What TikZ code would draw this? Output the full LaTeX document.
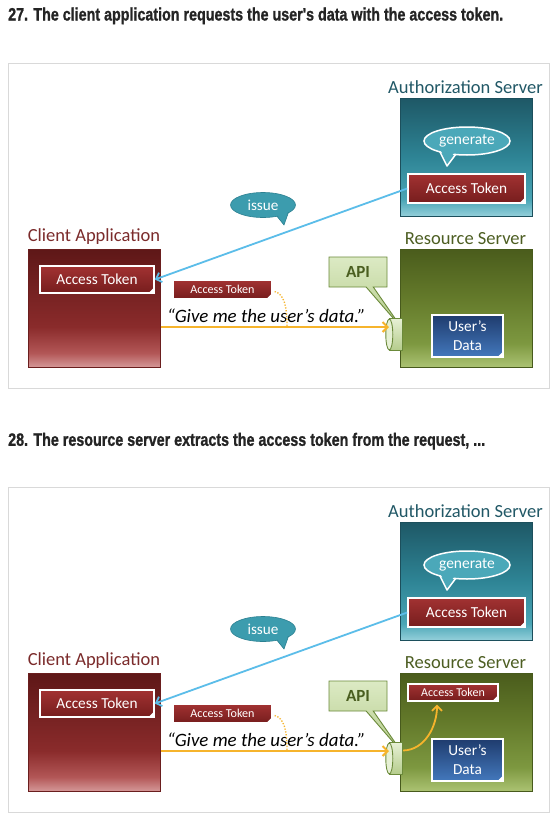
\documentclass[tikz,border=0pt]{standalone}
\usepackage{fontspec}
\setmainfont{Carlito}
\newfontfamily\titlefont[BoldFeatures={FakeBold=1.2}]{Liberation Sans}
\usetikzlibrary{shapes.geometric,shapes.callouts,arrows.meta,calc,shadows}

\definecolor{frameC}{HTML}{D9D9D9}
\definecolor{titleC}{HTML}{242424}
\definecolor{cliText}{HTML}{7B2B2B}
\definecolor{authText}{HTML}{215866}
\definecolor{resText}{HTML}{4D5E22}
\definecolor{cliT}{HTML}{5E1717}
\definecolor{cliM}{HTML}{8A2B2B}
\definecolor{cliL}{HTML}{B25656}
\definecolor{cliB}{HTML}{D49797}
\definecolor{cliE}{HTML}{6A1E1E}
\definecolor{authT}{HTML}{1E5866}
\definecolor{authM}{HTML}{2E8495}
\definecolor{authL}{HTML}{4AA5B5}
\definecolor{authB}{HTML}{93CFDA}
\definecolor{authE}{HTML}{1C4F5C}
\definecolor{resT}{HTML}{4A5C1C}
\definecolor{resM}{HTML}{63792A}
\definecolor{resL}{HTML}{7D9840}
\definecolor{resB}{HTML}{ABC272}
\definecolor{resE}{HTML}{475A1C}
\definecolor{tokT}{HTML}{A23232}
\definecolor{tokB}{HTML}{761D1D}
\definecolor{dataT}{HTML}{1F3C6E}
\definecolor{dataB}{HTML}{4378BC}
\definecolor{bubbleC}{HTML}{3C9CAE}
\definecolor{bubbleE}{HTML}{2C8192}
\definecolor{genC}{HTML}{4BA8B9}
\definecolor{apiT}{HTML}{DCEAC4}
\definecolor{apiB}{HTML}{B5CC8C}
\definecolor{apiE}{HTML}{6B8A3A}
\definecolor{apiText}{HTML}{4A5E20}
\definecolor{cylF}{HTML}{E6F0D4}
\definecolor{blueArr}{HTML}{5BBDE9}
\definecolor{orangeArr}{HTML}{F6B42C}

\pgfdeclareverticalshading{clishade}{100bp}{color(0bp)=(cliB);color(25bp)=(cliB);color(31bp)=(cliL);color(42bp)=(cliM);color(75bp)=(cliT);color(100bp)=(cliT)}
\pgfdeclareverticalshading{authshade}{100bp}{color(0bp)=(authB);color(25bp)=(authB);color(32bp)=(authL);color(50bp)=(authM);color(75bp)=(authT);color(100bp)=(authT)}
\pgfdeclareverticalshading{resshade}{100bp}{color(0bp)=(resB);color(25bp)=(resB);color(35bp)=(resL);color(55bp)=(resM);color(75bp)=(resT);color(100bp)=(resT)}

\tikzset{
  lbl/.style={inner sep=0, font=\fontsize{18.5}{20}\selectfont},
  srv/.style={line width=1pt, minimum width=132, minimum height=118, inner sep=0},
  token/.style={draw=white, line width=1.6pt, top color=tokT, bottom color=tokB,
    text=white, inner sep=0, font=\fontsize{15.3}{17}\selectfont,
    drop shadow={opacity=0.35, shadow xshift=1pt, shadow yshift=-1.2pt}},
  smalltoken/.style={token, line width=1.3pt, font=\fontsize{12.1}{14}\selectfont},
  datab/.style={draw=white, line width=1.6pt, top color=dataT, bottom color=dataB,
    text=white, inner sep=0, align=center, font=\fontsize{15.3}{19}\selectfont,
    drop shadow={opacity=0.35, shadow xshift=1pt, shadow yshift=-1.2pt}},
  issuebub/.style={fill=bubbleC, draw=bubbleE, line width=0.6pt},
  genbub/.style={fill=genC, draw=white, line width=1.5pt},
  cylst/.style={draw=apiE, line width=0.9pt, line join=round},
  bluearr/.style={draw=blueArr, line width=1.8pt, -{Straight Barb[length=5pt,width=10pt]}},
  orangearr/.style={draw=orangeArr, line width=2pt, -{Straight Barb[length=5pt,width=10pt]}},
  dotline/.style={draw=orangeArr, line width=1.3pt, dash pattern=on 1.3pt off 1.6pt},
}

\newcommand\cornerfold[1]{%
  \fill[white] ($(#1.south east)+(-7,0)$) -- (#1.south east) -- ($(#1.south east)+(0,-7)$) -- cycle;}

\newcommand\drawpanel[1]{%
  \draw[frameC, line width=0.8pt] (8,63) rectangle (549,388);
  % client
  \node[lbl, text=cliText] (clil#1) at (94,237) {Client Application};
  \node[srv, draw=cliE, shading=clishade] (cli#1) at (94,308) {};
  \node[token, minimum width=114, minimum height=27] (ctok#1) at (97,279.5) {Access Token};
  \cornerfold{ctok#1}
  % authorization server
  \node[lbl, text=authText] (authl#1) at (465.5,87) {Authorization Server};
  \node[srv, draw=authE, shading=authshade] (auth#1) at (466,157) {};
  \filldraw[genbub, line join=round] (438,148) -- (447,166) -- (459,150) -- cycle;
  \node[ellipse, genbub, minimum width=86, minimum height=28, inner sep=0, text=white,
    font=\fontsize{15.5}{17}\selectfont] (gen#1) at (467,141) {generate};
  \fill[genC] (440.5,150) -- (446.8,162.5) -- (455.5,151) -- cycle;
  \node[token, minimum width=117, minimum height=29] (atok#1) at (466.5,188.5) {Access Token};
  \cornerfold{atok#1}
  % resource server
  \node[lbl, text=resText] (resl#1) at (465.5,239) {Resource Server};
  \node[srv, draw=resE, shading=resshade] (res#1) at (466,308) {};
  \node[datab, minimum width=71, minimum height=42] (data#1) at (467.5,336) {User’s\\Data};
  \cornerfold{data#1}
  % API
  \node[rectangle callout, draw=apiE, line width=0.9pt, top color=apiT, bottom color=apiB,
    minimum width=58, minimum height=30, inner sep=0, callout relative pointer={(32,41)},
    text=apiText, font=\fontsize{17}{19}\selectfont\bfseries] (api#1) at (358,272) {API};
  \node[minimum width=16, minimum height=31, inner sep=0] (cyl#1) at (394,334.5) {};
  \filldraw[cylst, top color=cylF, bottom color=apiB] ($(cyl#1.north west)+(3.5,0)$) -- (cyl#1.north east)
    -- (cyl#1.south east) -- ($(cyl#1.south west)+(3.5,0)$) -- cycle;
  \filldraw[cylst, fill=cylF] ($(cyl#1.west)+(3.5,0)$) ellipse [x radius=3.5, y radius=15.5];
  % issue bubble
  \filldraw[issuebub, line join=round] (272,210) -- (284,225) -- (290,208) -- cycle;
  \node[ellipse, issuebub, minimum width=65, minimum height=25, inner sep=0, text=white,
    font=\fontsize{15.2}{17}\selectfont] (issue#1) at (263,205) {issue};
  \fill[bubbleC] (274,211) -- (283.6,223) -- (288.4,209.5) -- cycle;
  % request
  \node[smalltoken, minimum width=99, minimum height=19] (stok#1) at (222.5,289.5) {Access Token};
  \cornerfold{stok#1}
  \node[anchor=base west, inner sep=0, font=\fontsize{18.9}{20}\selectfont\itshape]
    (quote#1) at (167,322) {“Give me the user’s data.”};
  \coordinate (reqEnd#1) at (389,327);
  \coordinate (dotEnd#1) at (287,326);
  \draw[orangearr] (cli#1.east |- reqEnd#1) -- (reqEnd#1);
  \draw[dotline] ($(stok#1.east)+(2,2)$) .. controls (284,294) and (287,306) .. (dotEnd#1);
  % issue arrow
  \draw[bluearr] (atok#1.west) -- (ctok#1.east);
}

\begin{document}
\begin{tikzpicture}[x=1pt, y=-1pt]
  \fill[white] (0,0) rectangle (556,817);
  \useasboundingbox (0,0) rectangle (556,817);

  \node[anchor=north west, inner sep=0, text=titleC] (title1) at (8,7.3)
    {\resizebox{495pt}{13pt}{\titlefont\bfseries 27. The client application requests the user's data with the access token.}};
  \node[anchor=north west, inner sep=0, text=titleC] (title2) at (8,432.6)
    {\resizebox{477pt}{13pt}{\titlefont\bfseries 28. The resource server extracts the access token from the request, ...}};

  \begin{scope}
    \drawpanel{a}
  \end{scope}
  \begin{scope}[shift={(0,424)}]
    \drawpanel{b}
    \node[smalltoken, minimum width=90, minimum height=17, font=\fontsize{12}{14}\selectfont]
      (rtokb) at (453,268.5) {Access Token};
    \cornerfold{rtokb}
    \coordinate (extEndb) at ($(rtokb.south)+(-16,3)$);
    \draw[orangearr, line width=1.8pt] ($(cylb.east)+(1,-8)$) .. controls (425,326) and (437,302) .. (extEndb);
  \end{scope}
\end{tikzpicture}
\end{document}
